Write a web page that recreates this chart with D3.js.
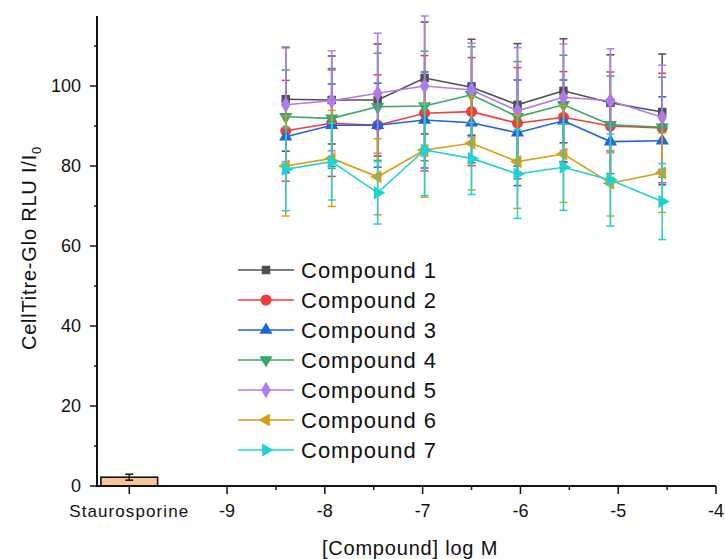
<!DOCTYPE html>
<html>
<head>
<meta charset="utf-8">
<script src="https://cdn.jsdelivr.net/npm/d3@7"></script>
<style>
  html, body { margin: 0; padding: 0; background: #fff; }
  svg { display: block; font-family: "Liberation Sans", Arial, sans-serif; }
</style>
</head>
<body>
<svg id="chart" width="725" height="559"></svg>
<script>
// ── Data ──────────────────────────────────────────────────
const logConc = [-8.4, -7.93, -7.46, -6.98, -6.5, -6.03, -5.56, -5.08, -4.55];

const names  = ['Compound 1', 'Compound 2', 'Compound 3', 'Compound 4',
                'Compound 5', 'Compound 6', 'Compound 7'];

const c1Mean = [96.7, 96.5, 96.5, 102.0, 99.7, 95.3, 98.8, 95.8, 93.5];
const c1Err  = [13.0, 11.0, 14.0, 14.0, 12.0, 15.3, 13.0, 12.0, 14.5];
const c2Mean = [88.8, 90.7, 90.2, 93.2, 93.6, 90.7, 92.2, 90.0, 89.5];
const c2Err  = [12.6, 13.3, 12.6, 14.4, 13.5, 13.9, 11.4, 13.5, 13.7];
const c3Mean = [87.3, 90.2, 90.2, 91.5, 90.8, 88.3, 91.3, 86.1, 86.3];
const c3Err  = [9.0, 10.3, 10.5, 12.0, 10.0, 13.2, 10.2, 9.0, 11.0];
const c4Mean = [92.3, 91.9, 94.8, 95.0, 97.8, 92.3, 95.3, 90.3, 89.7];
const c4Err  = [11.7, 12.5, 13.4, 13.7, 12.0, 13.8, 12.4, 12.2, 12.5];
const c5Mean = [95.3, 96.3, 98.2, 100.0, 99.0, 93.8, 97.2, 96.3, 92.2];
const c5Err  = [14.2, 12.5, 15.0, 17.5, 11.7, 15.8, 13.3, 13.0, 13.0];
const c6Mean = [80.0, 81.9, 77.3, 84.0, 85.7, 81.1, 83.0, 75.7, 78.3];
const c6Err  = [12.5, 12.0, 9.5, 11.8, 11.7, 11.7, 12.1, 8.2, 9.9];
const c7Mean = [79.2, 81.1, 73.3, 84.0, 81.9, 78.0, 79.7, 76.5, 71.1];
const c7Err  = [10.4, 9.6, 7.8, 11.4, 9.0, 11.1, 10.8, 11.5, 9.5];

// Staurosporine control, drawn as a bar at the "-10" slot
const controlLabel = 'Staurosporine';
const controlX     = -10;
const controlMean  = 2.2;
const controlErr   = 0.75;

const xTicks      = [-9, -8, -7, -6, -5, -4];
const xMinorTicks = [-8.5, -7.5, -6.5, -5.5, -4.5];
const yTicks      = [0, 20, 40, 60, 80, 100];
const yMinorTicks = [10, 30, 50, 70, 90, 110];

const means  = [c1Mean, c2Mean, c3Mean, c4Mean, c5Mean, c6Mean, c7Mean];
const errs   = [c1Err, c2Err, c3Err, c4Err, c5Err, c6Err, c7Err];

// ── Styling ──────────────────────────────────────────────
const colors = ['#505050', '#f03c3c', '#1e64dc', '#36a866',
                '#b07ae8', '#d4a010', '#1ed2d2'];
// symbol type + rotation (deg)
const symbols = [
  { type: d3.symbolSquare,   size: 72, rot: 0 },
  { type: d3.symbolCircle,   size: 95, rot: 0 },
  { type: d3.symbolTriangle, size: 75, rot: 0 },
  { type: d3.symbolTriangle, size: 75, rot: 180 },
  { type: d3.symbolDiamond,  size: 80, rot: 0 },
  { type: d3.symbolTriangle, size: 75, rot: -90 },
  { type: d3.symbolTriangle, size: 75, rot: 90 },
];

const svg = d3.select('#chart');

const x = d3.scaleLinear().domain([-10.33, -4]).range([97, 716]);
const y = d3.scaleLinear().domain([0, 117.5]).range([486, 16]);

const CAP = 4;

// ── Control bar ──────────────────────────────────────────
const barHalf = 0.29;
svg.append('rect')
  .attr('x', x(controlX - barHalf))
  .attr('y', y(controlMean))
  .attr('width', x(controlX + barHalf) - x(controlX - barHalf))
  .attr('height', y(0) - y(controlMean))
  .attr('fill', '#f9c496')
  .attr('stroke', '#111').attr('stroke-width', 1.6);

const ctrlErr = svg.append('g').attr('stroke', '#111').attr('stroke-width', 1.5);
ctrlErr.append('line')
  .attr('x1', x(controlX)).attr('x2', x(controlX))
  .attr('y1', y(controlMean - controlErr)).attr('y2', y(controlMean + controlErr));
[controlMean - controlErr, controlMean + controlErr].forEach(v => {
  ctrlErr.append('line')
    .attr('x1', x(controlX) - CAP).attr('x2', x(controlX) + CAP)
    .attr('y1', y(v)).attr('y2', y(v));
});

// ── Series ───────────────────────────────────────────────
const line = d3.line().x(d => x(d.x)).y(d => y(d.y));

means.forEach((vals, s) => {
  const pts = vals.map((v, i) => ({ x: logConc[i], y: v, e: errs[s][i] }));
  const g = svg.append('g');
  const col = colors[s];

  // error bars
  const eb = g.append('g').attr('stroke', col).attr('stroke-width', 1.5);
  pts.forEach(p => {
    eb.append('line')
      .attr('x1', x(p.x)).attr('x2', x(p.x))
      .attr('y1', y(p.y - p.e)).attr('y2', y(p.y + p.e));
    [p.y - p.e, p.y + p.e].forEach(v => {
      eb.append('line')
        .attr('x1', x(p.x) - CAP).attr('x2', x(p.x) + CAP)
        .attr('y1', y(v)).attr('y2', y(v));
    });
  });

  g.append('path').datum(pts)
    .attr('d', line)
    .attr('fill', 'none')
    .attr('stroke', col).attr('stroke-width', 1.6);

  const sym = d3.symbol().type(symbols[s].type).size(symbols[s].size);
  g.selectAll('path.mk').data(pts).join('path')
    .attr('class', 'mk')
    .attr('d', sym)
    .attr('transform', d => `translate(${x(d.x)},${y(d.y)}) rotate(${symbols[s].rot})`)
    .attr('fill', col);
});

// ── Axes ─────────────────────────────────────────────────
const axisG = svg.append('g').attr('stroke', '#111');

axisG.append('line')
  .attr('x1', 97).attr('x2', 97).attr('y1', y(117.5)).attr('y2', y(0) + 1)
  .attr('stroke-width', 2);
axisG.append('line')
  .attr('x1', 96).attr('x2', x(-4)).attr('y1', y(0)).attr('y2', y(0))
  .attr('stroke-width', 2);

yTicks.forEach(v => {
  axisG.append('line').attr('x1', 90).attr('x2', 97)
    .attr('y1', y(v)).attr('y2', y(v)).attr('stroke-width', 1.5);
});
yMinorTicks.forEach(v => {
  axisG.append('line').attr('x1', 94).attr('x2', 97)
    .attr('y1', y(v)).attr('y2', y(v)).attr('stroke-width', 1.5);
});
xTicks.concat([controlX]).forEach(v => {
  axisG.append('line').attr('x1', x(v)).attr('x2', x(v))
    .attr('y1', y(0)).attr('y2', y(0) + 8).attr('stroke-width', 1.5);
});
xMinorTicks.forEach(v => {
  axisG.append('line').attr('x1', x(v)).attr('x2', x(v))
    .attr('y1', y(0)).attr('y2', y(0) + 4).attr('stroke-width', 1.5);
});

svg.append('g').selectAll('text').data(yTicks).join('text')
  .attr('x', 81).attr('y', d => y(d) + 6)
  .attr('text-anchor', 'end')
  .attr('font-size', 18).attr('fill', '#111')
  .text(d => d);

svg.append('g').selectAll('text').data(xTicks).join('text')
  .attr('x', d => x(d)).attr('y', 517)
  .attr('text-anchor', 'middle')
  .attr('font-size', 18).attr('fill', '#111')
  .text(d => d);

svg.append('text')
  .attr('x', x(controlX)).attr('y', 517)
  .attr('text-anchor', 'middle')
  .attr('font-size', 17).attr('letter-spacing', 1.1).attr('fill', '#111')
  .text(controlLabel);

svg.append('text')
  .attr('x', 410).attr('y', 555)
  .attr('text-anchor', 'middle')
  .attr('font-size', 20).attr('letter-spacing', 0.8).attr('fill', '#111')
  .text('[Compound] log M');

const yl = svg.append('text')
  .attr('transform', 'translate(36,248) rotate(-90)')
  .attr('text-anchor', 'middle')
  .attr('font-size', 20).attr('letter-spacing', 0.8).attr('fill', '#111');
yl.append('tspan').text('CellTitre-Glo RLU I/I');
yl.append('tspan').attr('font-size', 13).attr('dy', 5).text('0');

// ── Legend ───────────────────────────────────────────────
const legend = svg.append('g');
names.forEach((n, s) => {
  const ly = 270 + s * 30;
  const row = legend.append('g');
  row.append('line')
    .attr('x1', 238).attr('x2', 294).attr('y1', ly).attr('y2', ly)
    .attr('stroke', colors[s]).attr('stroke-width', 1.6);
  row.append('path')
    .attr('d', d3.symbol().type(symbols[s].type).size(symbols[s].size)())
    .attr('transform', `translate(266,${ly}) rotate(${symbols[s].rot})`)
    .attr('fill', colors[s]);
  row.append('text')
    .attr('x', 301).attr('y', ly + 8)
    .attr('font-size', 22).attr('letter-spacing', 1.0).attr('fill', '#111')
    .text(n);
});
</script>
</body>
</html>
